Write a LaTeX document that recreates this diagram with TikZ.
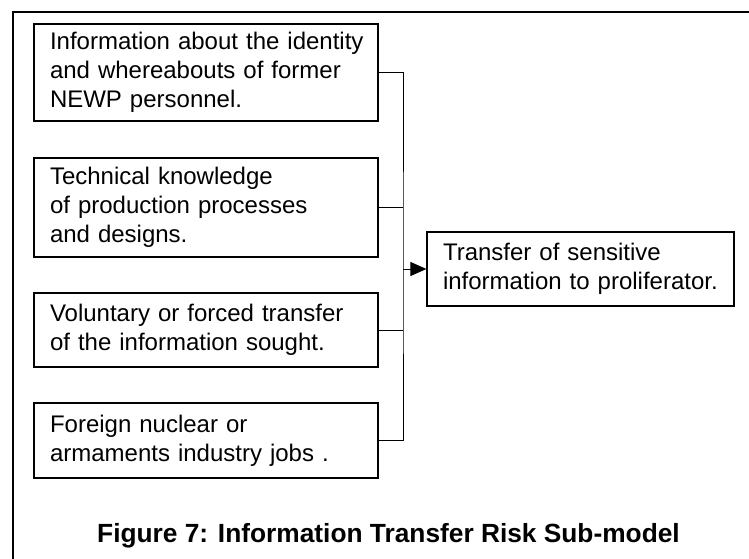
\documentclass[tikz,border=0pt]{standalone}
\usepackage{fontspec}
\setmainfont{Liberation Sans}
\usetikzlibrary{arrows.meta}
\begin{document}
\begin{tikzpicture}[x=1pt,y=-1pt,
  factor/.style={draw,line width=1.2pt,rectangle,inner xsep=16pt,inner ysep=0pt,
    align=left,font=\fontsize{24}{29}\selectfont},
  link/.style={draw,line width=1pt},
  flow/.style={link,-{Triangle[length=16pt,width=14pt]}}]
\useasboundingbox (0,0) rectangle (749,559);
% outer frame
\draw[line width=2pt] (13,559) -- (13,12) -- (749,12);
% contributing factors
\node[factor,minimum width=344pt,minimum height=97pt,text width=312pt] (b1) at (206,72.5)
  {\mbox{Information about the identity}\\and whereabouts of former\\NEWP personnel.};
\node[factor,minimum width=344pt,minimum height=99pt,text width=312pt] (b2) at (206,207.5)
  {Technical knowledge\\of production processes\\and designs.};
\node[factor,minimum width=344pt,minimum height=74pt,text width=312pt] (b3) at (206,330)
  {Voluntary or forced transfer\\of the information sought.};
\node[factor,minimum width=344pt,minimum height=75pt,text width=312pt] (b4) at (206,440.5)
  {Foreign nuclear or\\armaments industry jobs .};
% outcome
\node[factor,minimum width=307pt,minimum height=74pt,text width=275pt] (b5) at (580.5,269)
  {Transfer of sensitive\\\mbox{information to proliferator.}};
% collecting bus
\coordinate (bus) at (403,269);
\draw[link] (b1.east) -| (bus) |- (b4.east);
\draw[link] (b2.east) -- (b2.east -| bus);
\draw[link] (b3.east) -- (b3.east -| bus);
\draw[flow] (bus) -- (b5.west);
% caption
\node[anchor=base west,inner sep=0pt,font=\fontsize{26.3}{30}\selectfont\bfseries] (cap) at (97,542)
  {Figure 7: Information Transfer Risk Sub-model};
\end{tikzpicture}
\end{document}
